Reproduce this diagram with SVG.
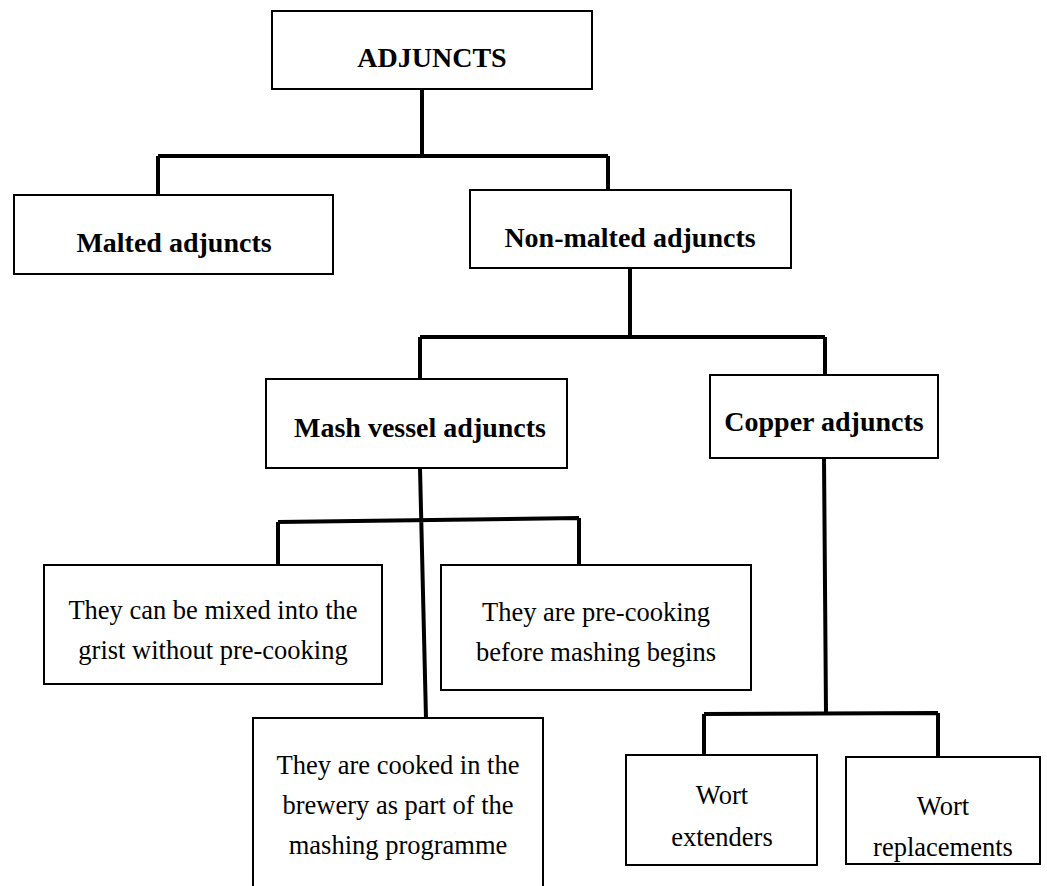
<svg xmlns="http://www.w3.org/2000/svg" width="1047" height="886" viewBox="0 0 1047 886">
<style>
.box{fill:#fff;stroke:#000;stroke-width:2}
.h{font-family:"Liberation Serif","DejaVu Serif",serif;font-weight:bold;font-size:28px;text-anchor:middle;fill:#000}
.t{font-family:"Liberation Serif","DejaVu Serif",serif;font-size:26.5px;text-anchor:middle;fill:#000}
.c{fill:none;stroke:#000;stroke-width:4}
</style>
<rect width="1047" height="886" fill="#fff"/>
<g id="connectors">
<path class="c" d="M422 89V156M158 156H608M158 156V195M608 156V190"/>
<path class="c" d="M630 268V337M420 337H825M420 337V379M825 337V375"/>
<path class="c" d="M420 468L426 718M278 522L579 518M278 522V565M579 518V565"/>
<path class="c" d="M824 458L826 713M704 714L938 713M704 714V755M938 713V757"/>
</g>
<g id="adjuncts"><rect class="box" x="272" y="11" width="320" height="78"/><text class="h" x="432" y="67">ADJUNCTS</text></g>
<g id="malted"><rect class="box" x="14" y="195" width="319" height="79"/><text class="h" x="174" y="252">Malted adjuncts</text></g>
<g id="nonmalted"><rect class="box" x="470" y="190" width="321" height="78"/><text class="h" x="630" y="247">Non-malted adjuncts</text></g>
<g id="mash"><rect class="box" x="266" y="379" width="301" height="89"/><text class="h" x="420" y="437">Mash vessel adjuncts</text></g>
<g id="copper"><rect class="box" x="710" y="375" width="228" height="83"/><text class="h" x="824" y="431">Copper adjuncts</text></g>
<g id="mixed"><rect class="box" x="44" y="565" width="338" height="119"/><text class="t" x="213" y="619">They can be mixed into the</text><text class="t" x="213" y="659">grist without pre-cooking</text></g>
<g id="precooking"><rect class="box" x="441" y="565" width="310" height="125"/><text class="t" x="596" y="621">They are pre-cooking</text><text class="t" x="596" y="661">before mashing begins</text></g>
<g id="cooked"><rect class="box" x="253" y="718" width="290" height="172"/><text class="t" x="398" y="774">They are cooked in the</text><text class="t" x="398" y="814">brewery as part of the</text><text class="t" x="398" y="854">mashing programme</text></g>
<g id="extenders"><rect class="box" x="626" y="755" width="191" height="110"/><text class="t" x="722" y="804">Wort</text><text class="t" x="722" y="846">extenders</text></g>
<g id="replacements"><rect class="box" x="846" y="757" width="194" height="107"/><text class="t" x="943" y="815">Wort</text><text class="t" x="943" y="856">replacements</text></g>
</svg>
